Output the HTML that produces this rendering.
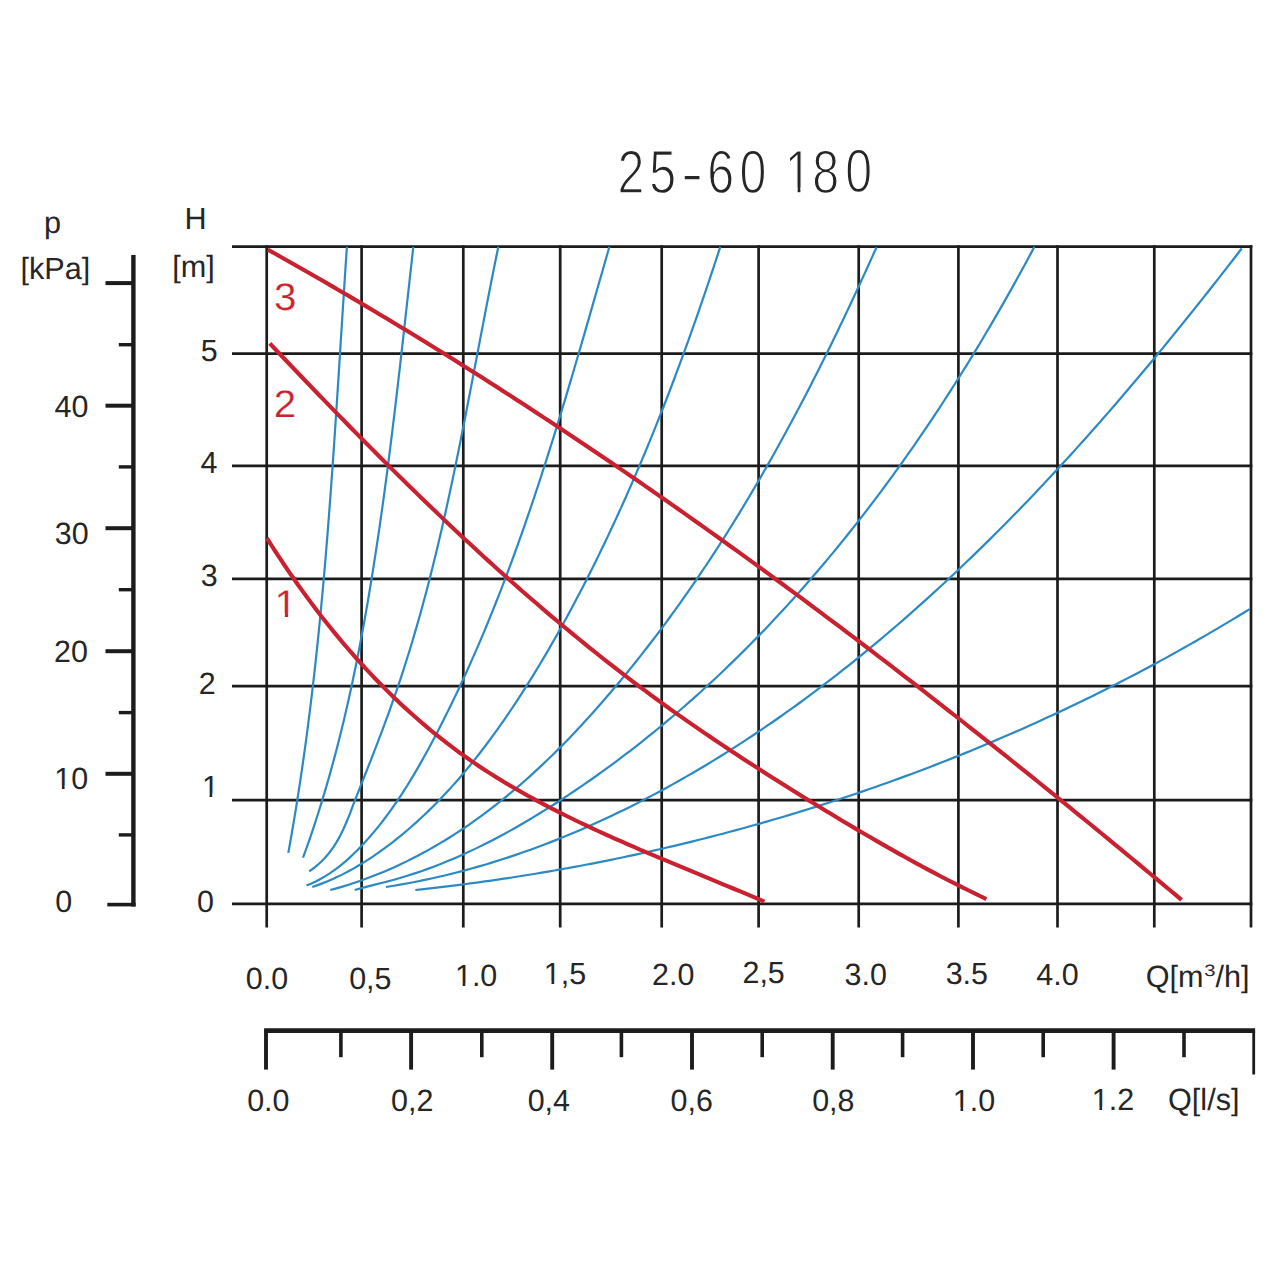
<!DOCTYPE html><html><head><meta charset="utf-8"><style>html,body{margin:0;padding:0;background:#fff;}svg{display:block;}text{font-family:"Liberation Sans",sans-serif;text-rendering:geometricPrecision;}</style></head><body>
<svg width="1280" height="1280" viewBox="0 0 1280 1280">
<rect width="1280" height="1280" fill="#fff"/>
<g stroke="#1c1c1c" stroke-width="2.70" fill="none"><line x1="232" y1="246.60" x2="1252.35" y2="246.60"/><line x1="232" y1="353.60" x2="1252.35" y2="353.60"/><line x1="232" y1="465.90" x2="1252.35" y2="465.90"/><line x1="232" y1="578.90" x2="1252.35" y2="578.90"/><line x1="232" y1="686.20" x2="1252.35" y2="686.20"/><line x1="232" y1="800.10" x2="1252.35" y2="800.10"/><line x1="232" y1="903.90" x2="1252.35" y2="903.90"/><line x1="266.70" y1="245.25" x2="266.70" y2="927.5"/><line x1="361.60" y1="245.25" x2="361.60" y2="927.5"/><line x1="463.30" y1="245.25" x2="463.30" y2="927.5"/><line x1="560.20" y1="245.25" x2="560.20" y2="927.5"/><line x1="661.70" y1="245.25" x2="661.70" y2="927.5"/><line x1="758.60" y1="245.25" x2="758.60" y2="927.5"/><line x1="858.70" y1="245.25" x2="858.70" y2="927.5"/><line x1="958.40" y1="245.25" x2="958.40" y2="927.5"/><line x1="1057.50" y1="245.25" x2="1057.50" y2="927.5"/><line x1="1154.30" y1="245.25" x2="1154.30" y2="927.5"/><line x1="1251.00" y1="245.25" x2="1251.00" y2="927.5"/></g>
<g stroke="#1c1c1c" fill="none"><line x1="133.40" y1="255" x2="133.40" y2="906.5" stroke-width="4.4"/><line x1="105.5" y1="283.10" x2="133.40" y2="283.10" stroke-width="4"/><line x1="105.5" y1="405.70" x2="133.40" y2="405.70" stroke-width="4"/><line x1="105.5" y1="528.20" x2="133.40" y2="528.20" stroke-width="4"/><line x1="105.5" y1="651.20" x2="133.40" y2="651.20" stroke-width="4"/><line x1="105.5" y1="773.80" x2="133.40" y2="773.80" stroke-width="4"/><line x1="107.3" y1="904.6" x2="135.60" y2="904.6" stroke-width="3.6"/><line x1="118.8" y1="344.70" x2="133.40" y2="344.70" stroke-width="3.4"/><line x1="118.8" y1="466.90" x2="133.40" y2="466.90" stroke-width="3.4"/><line x1="118.8" y1="589.70" x2="133.40" y2="589.70" stroke-width="3.4"/><line x1="118.8" y1="712.60" x2="133.40" y2="712.60" stroke-width="3.4"/><line x1="118.8" y1="834.90" x2="133.40" y2="834.90" stroke-width="3.4"/></g>
<g stroke="#1c1c1c" fill="none"><line x1="264.1" y1="1030.60" x2="1255.1" y2="1030.60" stroke-width="4.6"/><line x1="266.00" y1="1030.60" x2="266.00" y2="1069.6" stroke-width="3.9"/><line x1="411.10" y1="1030.60" x2="411.10" y2="1069.6" stroke-width="3.9"/><line x1="552.20" y1="1030.60" x2="552.20" y2="1069.6" stroke-width="3.9"/><line x1="692.00" y1="1030.60" x2="692.00" y2="1069.6" stroke-width="3.9"/><line x1="832.70" y1="1030.60" x2="832.70" y2="1069.6" stroke-width="3.9"/><line x1="973.00" y1="1030.60" x2="973.00" y2="1069.6" stroke-width="3.9"/><line x1="1113.60" y1="1030.60" x2="1113.60" y2="1069.6" stroke-width="3.9"/><line x1="340.90" y1="1030.60" x2="340.90" y2="1057.2" stroke-width="3.6"/><line x1="481.80" y1="1030.60" x2="481.80" y2="1057.2" stroke-width="3.6"/><line x1="621.40" y1="1030.60" x2="621.40" y2="1057.2" stroke-width="3.6"/><line x1="762.20" y1="1030.60" x2="762.20" y2="1057.2" stroke-width="3.6"/><line x1="902.60" y1="1030.60" x2="902.60" y2="1057.2" stroke-width="3.6"/><line x1="1043.20" y1="1030.60" x2="1043.20" y2="1057.2" stroke-width="3.6"/><line x1="1184.00" y1="1030.60" x2="1184.00" y2="1057.2" stroke-width="3.6"/><line x1="1253.7" y1="1030.60" x2="1253.7" y2="1074.5" stroke-width="2.8"/></g>
<g stroke="#2b8ac3" stroke-width="2.2" fill="none"><path d="M346.90,246.80 L346.61,251.17 L346.31,255.54 L346.02,259.91 L345.73,264.28 L345.44,268.65 L345.16,273.03 L344.87,277.40 L344.59,281.77 L344.30,286.14 L344.02,290.52 L343.74,294.89 L343.46,299.26 L343.18,303.63 L342.90,308.01 L342.62,312.38 L342.34,316.76 L342.06,321.13 L341.78,325.50 L341.50,329.88 L341.23,334.25 L340.95,338.63 L340.67,343.00 L340.39,347.38 L340.12,351.75 L339.84,356.13 L339.56,360.50 L339.28,364.88 L339.00,369.25 L338.73,373.63 L338.45,378.01 L338.17,382.38 L337.88,386.76 L337.60,391.13 L337.32,395.51 L337.04,399.88 L336.75,404.26 L336.47,408.63 L336.18,413.01 L335.89,417.39 L335.60,421.76 L335.31,426.14 L335.02,430.51 L334.73,434.89 L334.43,439.26 L334.14,443.64 L333.84,448.01 L333.54,452.39 L333.24,456.76 L332.93,461.13 L332.63,465.51 L332.32,469.88 L332.01,474.26 L331.70,478.63 L331.38,483.00 L331.07,487.38 L330.75,491.75 L330.43,496.12 L330.10,500.49 L329.77,504.87 L329.44,509.24 L329.11,513.61 L328.77,517.98 L328.44,522.35 L328.09,526.72 L327.75,531.09 L327.40,535.46 L327.05,539.83 L326.69,544.20 L326.34,548.57 L325.97,552.94 L325.61,557.31 L325.24,561.68 L324.87,566.04 L324.49,570.41 L324.11,574.78 L323.73,579.14 L323.34,583.51 L322.94,587.88 L322.55,592.24 L322.15,596.61 L321.74,600.97 L321.33,605.33 L320.92,609.70 L320.50,614.06 L320.08,618.42 L319.65,622.78 L319.21,627.14 L318.78,631.50 L318.33,635.86 L317.89,640.22 L317.43,644.58 L316.98,648.94 L316.51,653.30 L316.05,657.65 L315.57,662.01 L315.09,666.36 L314.61,670.72 L314.12,675.07 L313.62,679.43 L313.12,683.78 L312.61,688.13 L312.10,692.48 L311.58,696.83 L311.06,701.18 L310.52,705.53 L309.99,709.88 L309.44,714.23 L308.89,718.58 L308.34,722.92 L307.77,727.27 L307.20,731.61 L306.63,735.96 L306.05,740.30 L305.46,744.64 L304.86,748.98 L304.26,753.32 L303.65,757.66 L303.03,762.00 L302.40,766.34 L301.77,770.68 L301.13,775.01 L300.49,779.35 L299.83,783.68 L299.17,788.02 L298.50,792.35 L297.82,796.68 L297.14,801.01 L296.45,805.34 L295.75,809.67 L295.04,814.00 L294.32,818.32 L293.60,822.65 L292.87,826.97 L292.13,831.30 L291.38,835.62 L290.62,839.94 L289.85,844.26 L289.08,848.58 L288.30,852.90"/><path d="M413.32,246.81 L412.83,251.24 L412.33,255.68 L411.84,260.12 L411.34,264.56 L410.85,269.00 L410.36,273.44 L409.86,277.88 L409.37,282.32 L408.88,286.77 L408.39,291.21 L407.89,295.65 L407.40,300.10 L406.91,304.54 L406.41,308.99 L405.92,313.44 L405.43,317.88 L404.93,322.33 L404.43,326.78 L403.94,331.23 L403.44,335.67 L402.94,340.12 L402.44,344.57 L401.94,349.02 L401.43,353.47 L400.93,357.92 L400.42,362.37 L399.92,366.82 L399.41,371.27 L398.89,375.72 L398.38,380.17 L397.86,384.62 L397.35,389.07 L396.82,393.52 L396.30,397.97 L395.78,402.42 L395.25,406.87 L394.72,411.32 L394.18,415.77 L393.64,420.22 L393.10,424.67 L392.56,429.12 L392.01,433.57 L391.46,438.01 L390.91,442.46 L390.35,446.91 L389.79,451.36 L389.22,455.80 L388.65,460.25 L388.08,464.69 L387.50,469.14 L386.92,473.58 L386.33,478.02 L385.74,482.47 L385.15,486.91 L384.55,491.35 L383.94,495.79 L383.33,500.23 L382.72,504.67 L382.10,509.11 L381.47,513.55 L380.84,517.98 L380.21,522.42 L379.57,526.85 L378.92,531.29 L378.27,535.72 L377.61,540.15 L376.94,544.58 L376.27,549.01 L375.59,553.44 L374.91,557.87 L374.22,562.29 L373.52,566.72 L372.82,571.14 L372.11,575.56 L371.40,579.98 L370.67,584.40 L369.94,588.82 L369.20,593.24 L368.46,597.65 L367.71,602.07 L366.95,606.48 L366.18,610.89 L365.40,615.30 L364.61,619.70 L363.82,624.11 L363.02,628.51 L362.20,632.91 L361.38,637.31 L360.55,641.71 L359.71,646.10 L358.86,650.50 L358.00,654.89 L357.13,659.27 L356.25,663.66 L355.36,668.04 L354.46,672.42 L353.55,676.80 L352.63,681.18 L351.69,685.55 L350.75,689.92 L349.79,694.29 L348.82,698.66 L347.84,703.02 L346.85,707.38 L345.84,711.73 L344.83,716.09 L343.80,720.44 L342.75,724.78 L341.70,729.13 L340.63,733.47 L339.54,737.81 L338.45,742.14 L337.34,746.47 L336.21,750.80 L335.07,755.12 L333.92,759.44 L332.75,763.76 L331.57,768.07 L330.37,772.38 L329.16,776.69 L327.93,780.99 L326.69,785.29 L325.43,789.58 L324.16,793.87 L322.87,798.16 L321.56,802.44 L320.24,806.72 L318.90,810.99 L317.54,815.26 L316.17,819.53 L314.78,823.79 L313.37,828.04 L311.94,832.29 L310.50,836.54 L309.04,840.78 L307.56,845.02 L306.06,849.25 L304.55,853.48 L303.01,857.71"/><path d="M498.31,246.80 L497.36,251.43 L496.42,256.05 L495.48,260.68 L494.55,265.31 L493.62,269.94 L492.70,274.57 L491.78,279.21 L490.86,283.84 L489.95,288.48 L489.04,293.12 L488.14,297.76 L487.23,302.40 L486.33,307.04 L485.44,311.69 L484.54,316.33 L483.65,320.98 L482.76,325.63 L481.86,330.28 L480.98,334.92 L480.09,339.57 L479.20,344.23 L478.31,348.88 L477.43,353.53 L476.54,358.18 L475.65,362.83 L474.76,367.48 L473.88,372.14 L472.99,376.79 L472.10,381.44 L471.20,386.10 L470.31,390.75 L469.42,395.40 L468.52,400.05 L467.62,404.70 L466.71,409.36 L465.81,414.01 L464.90,418.66 L463.99,423.31 L463.07,427.96 L462.15,432.60 L461.23,437.25 L460.30,441.90 L459.37,446.54 L458.43,451.19 L457.49,455.83 L456.54,460.47 L455.58,465.11 L454.63,469.75 L453.66,474.39 L452.69,479.02 L451.71,483.66 L450.72,488.29 L449.73,492.92 L448.73,497.55 L447.73,502.18 L446.71,506.80 L445.69,511.42 L444.66,516.05 L443.62,520.66 L442.57,525.28 L441.51,529.89 L440.45,534.50 L439.37,539.11 L438.29,543.72 L437.19,548.32 L436.09,552.92 L434.97,557.52 L433.85,562.11 L432.71,566.70 L431.56,571.29 L430.40,575.88 L429.23,580.46 L428.05,585.04 L426.85,589.61 L425.64,594.18 L424.42,598.75 L423.19,603.32 L421.95,607.88 L420.69,612.43 L419.41,616.99 L418.13,621.53 L416.83,626.08 L415.51,630.62 L414.18,635.16 L412.84,639.69 L411.48,644.22 L410.11,648.74 L408.72,653.26 L407.31,657.77 L405.89,662.28 L404.45,666.79 L403.00,671.29 L401.53,675.79 L400.04,680.28 L398.54,684.76 L397.01,689.24 L395.48,693.72 L393.92,698.19 L392.35,702.65 L390.76,707.11 L389.16,711.57 L387.55,716.02 L385.92,720.47 L384.28,724.91 L382.63,729.35 L380.96,733.78 L379.29,738.21 L377.60,742.63 L375.91,747.05 L374.21,751.47 L372.50,755.88 L370.78,760.29 L369.05,764.69 L367.32,769.09 L365.58,773.49 L363.84,777.88 L362.09,782.27 L360.34,786.66 L358.60,791.05 L356.87,795.44 L355.16,799.83 L353.48,804.23 L351.81,808.63 L350.13,813.02 L348.41,817.39 L346.64,821.72 L344.80,826.03 L342.86,830.28 L340.80,834.48 L338.61,838.61 L336.25,842.67 L333.72,846.65 L330.99,850.53 L328.03,854.31 L324.84,857.99 L321.37,861.54 L317.63,864.97 L313.58,868.26 L309.20,871.40"/><path d="M609.41,246.80 L607.97,251.78 L606.54,256.77 L605.11,261.76 L603.68,266.74 L602.25,271.73 L600.81,276.72 L599.38,281.71 L597.95,286.70 L596.52,291.68 L595.09,296.67 L593.66,301.66 L592.23,306.65 L590.80,311.64 L589.36,316.63 L587.92,321.62 L586.48,326.61 L585.04,331.60 L583.60,336.58 L582.15,341.57 L580.71,346.56 L579.25,351.54 L577.80,356.52 L576.34,361.51 L574.88,366.49 L573.41,371.47 L571.94,376.45 L570.47,381.43 L568.99,386.40 L567.51,391.38 L566.02,396.35 L564.53,401.32 L563.03,406.29 L561.52,411.26 L560.01,416.23 L558.49,421.19 L556.97,426.15 L555.44,431.11 L553.90,436.07 L552.36,441.02 L550.81,445.97 L549.25,450.92 L547.68,455.87 L546.11,460.81 L544.53,465.75 L542.93,470.69 L541.33,475.62 L539.73,480.55 L538.11,485.48 L536.48,490.41 L534.85,495.33 L533.20,500.24 L531.54,505.16 L529.88,510.07 L528.20,514.97 L526.51,519.87 L524.81,524.77 L523.11,529.67 L521.38,534.56 L519.65,539.44 L517.91,544.32 L516.15,549.20 L514.38,554.07 L512.60,558.93 L510.81,563.80 L509.00,568.65 L507.18,573.51 L505.35,578.35 L503.50,583.19 L501.64,588.03 L499.77,592.86 L497.88,597.69 L495.98,602.51 L494.06,607.32 L492.13,612.13 L490.18,616.93 L488.22,621.73 L486.24,626.52 L484.24,631.31 L482.23,636.09 L480.21,640.86 L478.16,645.63 L476.10,650.39 L474.02,655.14 L471.93,659.89 L469.82,664.63 L467.69,669.36 L465.54,674.08 L463.38,678.80 L461.19,683.52 L458.99,688.22 L456.77,692.92 L454.53,697.61 L452.27,702.29 L449.99,706.97 L447.69,711.63 L445.38,716.29 L443.04,720.95 L440.68,725.59 L438.30,730.23 L435.90,734.85 L433.48,739.47 L431.03,744.08 L428.57,748.68 L426.07,753.26 L423.55,757.83 L421.00,762.38 L418.41,766.91 L415.80,771.42 L413.14,775.90 L410.45,780.36 L407.73,784.79 L404.96,789.19 L402.15,793.55 L399.29,797.89 L396.39,802.18 L393.44,806.44 L390.45,810.66 L387.40,814.84 L384.29,818.97 L381.14,823.05 L377.92,827.09 L374.65,831.08 L371.32,835.01 L367.93,838.89 L364.47,842.72 L360.95,846.48 L357.35,850.19 L353.69,853.82 L349.94,857.36 L346.10,860.80 L342.17,864.14 L338.14,867.36 L334.00,870.44 L329.74,873.38 L325.36,876.17 L320.86,878.79 L316.22,881.22 L311.44,883.47 L306.51,885.52"/><path d="M720.30,246.80 L718.57,252.12 L716.83,257.43 L715.08,262.75 L713.33,268.06 L711.56,273.37 L709.79,278.69 L708.00,284.00 L706.21,289.31 L704.40,294.62 L702.59,299.92 L700.76,305.23 L698.93,310.53 L697.08,315.83 L695.22,321.13 L693.36,326.43 L691.48,331.72 L689.59,337.02 L687.69,342.31 L685.78,347.59 L683.86,352.87 L681.93,358.15 L679.98,363.43 L678.03,368.70 L676.06,373.97 L674.08,379.24 L672.09,384.50 L670.09,389.76 L668.07,395.01 L666.04,400.26 L664.00,405.50 L661.95,410.74 L659.88,415.98 L657.81,421.21 L655.71,426.43 L653.61,431.65 L651.49,436.86 L649.36,442.07 L647.22,447.27 L645.06,452.46 L642.89,457.65 L640.71,462.84 L638.51,468.01 L636.29,473.18 L634.07,478.35 L631.83,483.50 L629.57,488.65 L627.30,493.79 L625.02,498.93 L622.72,504.05 L620.40,509.17 L618.07,514.28 L615.73,519.39 L613.37,524.48 L611.00,529.57 L608.61,534.64 L606.20,539.71 L603.78,544.77 L601.34,549.83 L598.89,554.87 L596.42,559.90 L593.94,564.93 L591.44,569.94 L588.92,574.94 L586.39,579.94 L583.83,584.92 L581.27,589.90 L578.68,594.86 L576.08,599.82 L573.46,604.76 L570.83,609.69 L568.17,614.61 L565.50,619.52 L562.81,624.42 L560.09,629.31 L557.36,634.19 L554.61,639.06 L551.83,643.92 L549.03,648.77 L546.21,653.60 L543.37,658.43 L540.50,663.24 L537.61,668.04 L534.69,672.84 L531.74,677.62 L528.77,682.39 L525.78,687.15 L522.75,691.90 L519.70,696.64 L516.62,701.36 L513.51,706.07 L510.37,710.76 L507.20,715.43 L504.00,720.08 L500.77,724.71 L497.50,729.33 L494.20,733.91 L490.87,738.47 L487.50,743.01 L484.10,747.52 L480.67,751.99 L477.20,756.44 L473.69,760.86 L470.15,765.24 L466.56,769.59 L462.94,773.90 L459.28,778.18 L455.58,782.41 L451.85,786.61 L448.07,790.76 L444.25,794.87 L440.38,798.94 L436.48,802.96 L432.53,806.94 L428.54,810.86 L424.50,814.74 L420.42,818.56 L416.30,822.33 L412.12,826.05 L407.91,829.71 L403.64,833.32 L399.33,836.87 L394.96,840.36 L390.55,843.78 L386.09,847.15 L381.58,850.45 L377.02,853.67 L372.40,856.83 L367.73,859.90 L363.00,862.88 L358.21,865.78 L353.37,868.58 L348.46,871.28 L343.49,873.88 L338.46,876.37 L333.36,878.75 L328.20,881.00 L322.97,883.14 L317.67,885.15 L312.30,887.02"/><path d="M876.54,247.23 L873.99,252.92 L871.43,258.61 L868.86,264.29 L866.27,269.97 L863.68,275.65 L861.08,281.32 L858.46,286.99 L855.83,292.66 L853.19,298.32 L850.54,303.98 L847.88,309.63 L845.20,315.27 L842.51,320.92 L839.81,326.55 L837.10,332.18 L834.37,337.81 L831.63,343.42 L828.88,349.04 L826.11,354.64 L823.33,360.24 L820.54,365.84 L817.73,371.42 L814.90,377.00 L812.07,382.57 L809.21,388.14 L806.34,393.69 L803.46,399.24 L800.56,404.78 L797.65,410.31 L794.72,415.83 L791.77,421.35 L788.81,426.85 L785.83,432.35 L782.83,437.84 L779.82,443.32 L776.79,448.78 L773.74,454.24 L770.68,459.69 L767.60,465.13 L764.50,470.56 L761.38,475.97 L758.24,481.38 L755.09,486.77 L751.92,492.16 L748.73,497.53 L745.51,502.89 L742.28,508.24 L739.03,513.58 L735.77,518.90 L732.48,524.21 L729.17,529.51 L725.84,534.80 L722.49,540.07 L719.12,545.33 L715.73,550.58 L712.32,555.82 L708.88,561.04 L705.43,566.24 L701.95,571.43 L698.45,576.61 L694.93,581.78 L691.39,586.92 L687.83,592.06 L684.24,597.18 L680.63,602.28 L677.00,607.37 L673.34,612.44 L669.66,617.49 L665.96,622.53 L662.23,627.56 L658.48,632.57 L654.71,637.56 L650.91,642.53 L647.08,647.49 L643.24,652.43 L639.36,657.35 L635.46,662.25 L631.54,667.14 L627.59,672.01 L623.61,676.86 L619.61,681.69 L615.59,686.50 L611.53,691.30 L607.45,696.07 L603.34,700.82 L599.21,705.55 L595.04,710.26 L590.85,714.94 L586.63,719.59 L582.38,724.22 L578.10,728.81 L573.79,733.38 L569.46,737.91 L565.09,742.41 L560.68,746.88 L556.25,751.31 L551.79,755.70 L547.29,760.06 L542.76,764.38 L538.20,768.65 L533.60,772.89 L528.97,777.08 L524.31,781.22 L519.61,785.32 L514.87,789.38 L510.10,793.38 L505.30,797.34 L500.46,801.24 L495.58,805.09 L490.66,808.89 L485.71,812.64 L480.72,816.32 L475.69,819.95 L470.63,823.53 L465.52,827.04 L460.38,830.49 L455.19,833.88 L449.96,837.20 L444.70,840.46 L439.39,843.66 L434.04,846.78 L428.65,849.84 L423.22,852.83 L417.75,855.74 L412.23,858.59 L406.67,861.36 L401.07,864.05 L395.42,866.67 L389.72,869.21 L383.99,871.67 L378.20,874.05 L372.37,876.35 L366.50,878.57 L360.58,880.70 L354.61,882.75 L348.60,884.71 L342.53,886.58 L336.42,888.37 L330.26,890.06"/><path d="M1034.40,246.81 L1031.17,252.88 L1027.92,258.94 L1024.64,264.99 L1021.34,271.04 L1018.03,277.08 L1014.69,283.11 L1011.33,289.13 L1007.95,295.15 L1004.55,301.16 L1001.13,307.16 L997.69,313.15 L994.22,319.13 L990.74,325.10 L987.23,331.06 L983.70,337.01 L980.15,342.96 L976.58,348.89 L972.98,354.81 L969.37,360.71 L965.73,366.61 L962.07,372.50 L958.39,378.37 L954.68,384.23 L950.96,390.08 L947.21,395.91 L943.44,401.73 L939.64,407.54 L935.83,413.33 L931.99,419.11 L928.13,424.88 L924.24,430.63 L920.34,436.37 L916.41,442.09 L912.46,447.79 L908.48,453.48 L904.48,459.15 L900.46,464.81 L896.42,470.45 L892.35,476.07 L888.26,481.68 L884.14,487.26 L880.00,492.83 L875.84,498.38 L871.65,503.92 L867.44,509.43 L863.21,514.93 L858.95,520.40 L854.67,525.86 L850.37,531.29 L846.04,536.71 L841.68,542.10 L837.31,547.48 L832.90,552.83 L828.48,558.16 L824.03,563.47 L819.55,568.76 L815.05,574.03 L810.53,579.27 L805.98,584.49 L801.40,589.69 L796.80,594.86 L792.18,600.01 L787.53,605.13 L782.85,610.24 L778.15,615.31 L773.43,620.36 L768.68,625.39 L763.90,630.39 L759.10,635.37 L754.27,640.32 L749.42,645.24 L744.54,650.14 L739.64,655.01 L734.71,659.85 L729.75,664.66 L724.77,669.45 L719.76,674.21 L714.73,678.94 L709.67,683.64 L704.58,688.31 L699.47,692.96 L694.33,697.57 L689.16,702.16 L683.97,706.71 L678.75,711.23 L673.51,715.73 L668.23,720.19 L662.94,724.62 L657.61,729.02 L652.26,733.38 L646.87,737.72 L641.47,742.02 L636.03,746.29 L630.57,750.53 L625.08,754.73 L619.56,758.90 L614.02,763.04 L608.44,767.14 L602.84,771.20 L597.22,775.24 L591.56,779.23 L585.88,783.20 L580.17,787.12 L574.43,791.01 L568.66,794.87 L562.86,798.68 L557.04,802.46 L551.19,806.21 L545.30,809.91 L539.39,813.56 L533.45,817.17 L527.49,820.73 L521.49,824.24 L515.46,827.70 L509.40,831.09 L503.31,834.43 L497.19,837.71 L491.04,840.92 L484.86,844.06 L478.65,847.13 L472.40,850.13 L466.12,853.05 L459.81,855.90 L453.47,858.66 L447.10,861.34 L440.69,863.94 L434.25,866.45 L427.78,868.86 L421.27,871.18 L414.73,873.41 L408.16,875.53 L401.55,877.56 L394.90,879.48 L388.23,881.29 L381.52,883.01 L374.80,884.69 L368.07,886.38 L361.37,888.12 L354.69,889.97"/><path d="M1241.71,248.51 L1236.91,254.74 L1232.10,260.96 L1227.28,267.18 L1222.45,273.38 L1217.60,279.58 L1212.75,285.77 L1207.89,291.95 L1203.01,298.11 L1198.12,304.27 L1193.22,310.42 L1188.30,316.56 L1183.37,322.68 L1178.43,328.80 L1173.48,334.90 L1168.51,341.00 L1163.53,347.08 L1158.54,353.15 L1153.53,359.20 L1148.50,365.25 L1143.46,371.28 L1138.41,377.29 L1133.34,383.30 L1128.25,389.29 L1123.15,395.26 L1118.03,401.23 L1112.90,407.17 L1107.75,413.11 L1102.58,419.03 L1097.39,424.93 L1092.19,430.81 L1086.97,436.69 L1081.74,442.54 L1076.48,448.38 L1071.21,454.20 L1065.92,460.01 L1060.61,465.80 L1055.28,471.57 L1049.93,477.32 L1044.56,483.06 L1039.17,488.77 L1033.76,494.47 L1028.33,500.15 L1022.89,505.81 L1017.42,511.46 L1011.92,517.08 L1006.41,522.68 L1000.88,528.26 L995.32,533.83 L989.75,539.37 L984.15,544.89 L978.53,550.39 L972.88,555.87 L967.22,561.33 L961.53,566.77 L955.81,572.18 L950.08,577.57 L944.31,582.94 L938.53,588.29 L932.72,593.61 L926.89,598.91 L921.03,604.18 L915.15,609.43 L909.24,614.65 L903.31,619.84 L897.36,625.01 L891.38,630.15 L885.37,635.26 L879.34,640.34 L873.29,645.40 L867.21,650.42 L861.11,655.41 L854.98,660.37 L848.83,665.30 L842.65,670.19 L836.45,675.06 L830.22,679.89 L823.97,684.68 L817.69,689.44 L811.39,694.17 L805.06,698.85 L798.70,703.51 L792.32,708.12 L785.92,712.70 L779.49,717.24 L773.03,721.74 L766.55,726.20 L760.04,730.62 L753.50,735.00 L746.94,739.33 L740.35,743.63 L733.74,747.88 L727.10,752.09 L720.44,756.26 L713.75,760.38 L707.03,764.46 L700.28,768.49 L693.51,772.48 L686.71,776.42 L679.89,780.31 L673.04,784.16 L666.16,787.95 L659.25,791.70 L652.32,795.40 L645.36,799.04 L638.38,802.64 L631.37,806.18 L624.33,809.67 L617.27,813.11 L610.18,816.48 L603.06,819.81 L595.92,823.07 L588.75,826.28 L581.56,829.42 L574.34,832.51 L567.09,835.53 L559.83,838.49 L552.53,841.39 L545.21,844.22 L537.87,846.99 L530.50,849.69 L523.11,852.33 L515.69,854.89 L508.25,857.38 L500.78,859.81 L493.29,862.16 L485.78,864.44 L478.24,866.65 L470.68,868.78 L463.10,870.83 L455.49,872.81 L447.86,874.72 L440.21,876.54 L432.53,878.28 L424.83,879.94 L417.11,881.53 L409.36,883.02 L401.59,884.44 L393.80,885.77 L385.99,887.01"/><path d="M1249.61,609.12 L1244.17,612.47 L1238.72,615.79 L1233.25,619.10 L1227.78,622.39 L1222.29,625.67 L1216.79,628.92 L1211.28,632.15 L1205.76,635.37 L1200.23,638.56 L1194.69,641.74 L1189.14,644.90 L1183.58,648.04 L1178.01,651.15 L1172.42,654.25 L1166.83,657.34 L1161.23,660.40 L1155.61,663.44 L1149.99,666.46 L1144.35,669.47 L1138.71,672.45 L1133.05,675.42 L1127.39,678.37 L1121.72,681.30 L1116.03,684.21 L1110.34,687.10 L1104.64,689.97 L1098.92,692.82 L1093.20,695.65 L1087.47,698.46 L1081.73,701.26 L1075.98,704.03 L1070.22,706.79 L1064.45,709.53 L1058.67,712.24 L1052.89,714.94 L1047.09,717.62 L1041.29,720.28 L1035.48,722.92 L1029.65,725.54 L1023.82,728.15 L1017.99,730.73 L1012.14,733.29 L1006.28,735.84 L1000.42,738.36 L994.55,740.87 L988.67,743.36 L982.78,745.82 L976.88,748.27 L970.97,750.70 L965.06,753.11 L959.14,755.50 L953.21,757.87 L947.28,760.23 L941.33,762.56 L935.38,764.87 L929.42,767.17 L923.45,769.44 L917.48,771.70 L911.50,773.94 L905.51,776.15 L899.51,778.35 L893.51,780.53 L887.50,782.69 L881.48,784.83 L875.46,786.95 L869.43,789.05 L863.39,791.14 L857.35,793.20 L851.29,795.24 L845.24,797.27 L839.17,799.27 L833.10,801.26 L827.03,803.22 L820.94,805.17 L814.85,807.10 L808.76,809.01 L802.66,810.90 L796.55,812.77 L790.43,814.62 L784.31,816.45 L778.19,818.26 L772.06,820.05 L765.92,821.82 L759.78,823.58 L753.63,825.31 L747.48,827.02 L741.32,828.72 L735.15,830.39 L728.98,832.05 L722.81,833.69 L716.63,835.30 L710.44,836.90 L704.25,838.48 L698.06,840.04 L691.86,841.58 L685.65,843.10 L679.45,844.60 L673.23,846.08 L667.01,847.54 L660.79,848.99 L654.56,850.41 L648.33,851.81 L642.09,853.20 L635.85,854.56 L629.61,855.90 L623.36,857.23 L617.11,858.54 L610.85,859.82 L604.59,861.09 L598.33,862.34 L592.06,863.56 L585.79,864.77 L579.51,865.96 L573.23,867.13 L566.95,868.28 L560.66,869.41 L554.37,870.52 L548.08,871.61 L541.79,872.68 L535.49,873.74 L529.19,874.77 L522.88,875.78 L516.57,876.78 L510.26,877.75 L503.95,878.70 L497.63,879.64 L491.31,880.55 L484.99,881.45 L478.67,882.32 L472.34,883.18 L466.01,884.02 L459.68,884.83 L453.35,885.63 L447.01,886.41 L440.68,887.17 L434.34,887.91 L427.99,888.63 L421.65,889.32 L415.30,890.00"/></g>
<g stroke="#ca2130" stroke-width="4.1" fill="none"><path d="M266.84,538.06 L269.26,541.91 L271.71,545.74 L274.17,549.56 L276.64,553.37 L279.14,557.18 L281.65,560.97 L284.18,564.75 L286.73,568.52 L289.29,572.28 L291.87,576.02 L294.47,579.76 L297.09,583.48 L299.73,587.19 L302.38,590.89 L305.05,594.57 L307.75,598.24 L310.45,601.90 L313.18,605.54 L315.93,609.17 L318.69,612.78 L321.47,616.38 L324.27,619.96 L327.09,623.53 L329.93,627.08 L332.79,630.61 L335.66,634.13 L338.56,637.63 L341.47,641.12 L344.40,644.58 L347.36,648.03 L350.33,651.46 L353.32,654.87 L356.33,658.27 L359.35,661.64 L362.40,665.00 L365.47,668.33 L368.56,671.65 L371.66,674.94 L374.79,678.22 L377.93,681.47 L381.10,684.71 L384.28,687.92 L387.49,691.11 L390.71,694.28 L393.96,697.42 L397.22,700.55 L400.51,703.65 L403.81,706.72 L407.14,709.78 L410.49,712.81 L413.85,715.81 L417.24,718.79 L420.65,721.75 L424.08,724.68 L427.52,727.59 L430.99,730.47 L434.48,733.32 L438.00,736.15 L441.53,738.95 L445.08,741.73 L448.66,744.47 L452.25,747.19 L455.87,749.89 L459.50,752.55 L463.16,755.19 L466.84,757.79 L470.54,760.37 L474.27,762.92 L478.01,765.45 L481.77,767.95 L485.55,770.42 L489.35,772.86 L493.17,775.28 L497.01,777.67 L500.86,780.04 L504.73,782.39 L508.62,784.71 L512.52,787.01 L516.44,789.28 L520.38,791.54 L524.33,793.77 L528.29,795.98 L532.27,798.17 L536.26,800.34 L540.27,802.49 L544.29,804.62 L548.32,806.73 L552.36,808.82 L556.41,810.89 L560.48,812.95 L564.56,814.99 L568.64,817.01 L572.74,819.02 L576.85,821.01 L580.96,822.98 L585.08,824.94 L589.22,826.89 L593.35,828.82 L597.50,830.74 L601.65,832.64 L605.81,834.53 L609.98,836.41 L614.15,838.28 L618.33,840.14 L622.51,841.99 L626.69,843.82 L630.88,845.65 L635.07,847.47 L639.27,849.28 L643.47,851.08 L647.67,852.87 L651.87,854.65 L656.07,856.43 L660.28,858.20 L664.48,859.97 L668.69,861.73 L672.89,863.48 L677.09,865.23 L681.29,866.98 L685.49,868.72 L689.69,870.46 L693.89,872.19 L698.08,873.93 L702.27,875.66 L706.45,877.39 L710.63,879.12 L714.81,880.84 L718.98,882.57 L723.14,884.30 L727.30,886.03 L731.45,887.76 L735.60,889.49 L739.74,891.23 L743.87,892.96 L747.99,894.70 L752.10,896.45 L756.21,898.20 L760.30,899.95 L764.39,901.71"/><path d="M269.83,343.46 L274.35,348.23 L278.87,353.00 L283.39,357.76 L287.92,362.52 L292.45,367.27 L296.99,372.02 L301.53,376.77 L306.08,381.52 L310.63,386.26 L315.18,390.99 L319.74,395.72 L324.31,400.45 L328.88,405.17 L333.46,409.88 L338.04,414.59 L342.63,419.30 L347.23,424.00 L351.83,428.69 L356.44,433.37 L361.05,438.05 L365.67,442.73 L370.30,447.39 L374.94,452.05 L379.58,456.70 L384.23,461.34 L388.88,465.98 L393.55,470.61 L398.22,475.22 L402.90,479.83 L407.59,484.44 L412.28,489.03 L416.99,493.61 L421.70,498.19 L426.42,502.75 L431.15,507.30 L435.89,511.85 L440.64,516.38 L445.40,520.91 L450.17,525.42 L454.95,529.92 L459.73,534.41 L464.53,538.89 L469.34,543.36 L474.15,547.81 L478.98,552.26 L483.82,556.69 L488.67,561.11 L493.53,565.51 L498.40,569.91 L503.28,574.29 L508.17,578.65 L513.07,583.01 L517.99,587.35 L522.92,591.67 L527.86,595.99 L532.81,600.28 L537.77,604.56 L542.75,608.83 L547.74,613.08 L552.74,617.32 L557.75,621.54 L562.78,625.75 L567.82,629.94 L572.87,634.11 L577.94,638.27 L583.02,642.41 L588.11,646.54 L593.22,650.64 L598.34,654.73 L603.48,658.81 L608.63,662.86 L613.80,666.90 L618.98,670.92 L624.17,674.92 L629.38,678.90 L634.60,682.86 L639.84,686.81 L645.10,690.73 L650.37,694.64 L655.66,698.52 L660.96,702.39 L666.28,706.23 L671.61,710.06 L676.96,713.87 L682.33,717.65 L687.71,721.42 L693.10,725.17 L698.50,728.91 L703.92,732.62 L709.36,736.32 L714.80,740.00 L720.26,743.67 L725.73,747.32 L731.21,750.95 L736.70,754.57 L742.20,758.17 L747.71,761.76 L753.23,765.34 L758.76,768.90 L764.30,772.45 L769.84,775.98 L775.40,779.50 L780.96,783.01 L786.53,786.51 L792.10,790.00 L797.68,793.48 L803.27,796.94 L808.86,800.39 L814.46,803.84 L820.06,807.27 L825.67,810.70 L831.29,814.11 L836.91,817.50 L842.54,820.89 L848.17,824.26 L853.82,827.62 L859.47,830.96 L865.12,834.28 L870.79,837.59 L876.47,840.88 L882.15,844.15 L887.84,847.40 L893.55,850.63 L899.26,853.84 L904.99,857.03 L910.72,860.20 L916.47,863.35 L922.23,866.47 L928.00,869.57 L933.78,872.65 L939.58,875.70 L945.39,878.72 L951.21,881.71 L957.04,884.68 L962.89,887.62 L968.76,890.53 L974.64,893.42 L980.53,896.27 L986.44,899.09"/><path d="M267.71,249.62 L274.78,253.57 L281.84,257.53 L288.90,261.51 L295.94,265.49 L302.98,269.50 L310.00,273.51 L317.02,277.54 L324.03,281.59 L331.03,285.64 L338.02,289.71 L345.00,293.79 L351.98,297.89 L358.94,302.00 L365.90,306.12 L372.85,310.25 L379.79,314.40 L386.72,318.56 L393.64,322.73 L400.56,326.92 L407.47,331.12 L414.37,335.33 L421.26,339.55 L428.14,343.79 L435.02,348.03 L441.88,352.29 L448.74,356.56 L455.59,360.85 L462.44,365.14 L469.27,369.45 L476.10,373.77 L482.92,378.10 L489.73,382.44 L496.53,386.80 L503.33,391.16 L510.12,395.54 L516.90,399.93 L523.67,404.33 L530.44,408.74 L537.19,413.16 L543.95,417.60 L550.69,422.04 L557.42,426.50 L564.15,430.96 L570.87,435.44 L577.59,439.93 L584.29,444.43 L590.99,448.94 L597.69,453.46 L604.37,457.99 L611.05,462.53 L617.72,467.08 L624.38,471.64 L631.04,476.21 L637.69,480.80 L644.33,485.39 L650.97,489.99 L657.60,494.60 L664.22,499.22 L670.84,503.86 L677.45,508.50 L684.05,513.15 L690.65,517.81 L697.24,522.48 L703.82,527.16 L710.39,531.85 L716.96,536.54 L723.53,541.25 L730.08,545.97 L736.63,550.69 L743.18,555.43 L749.72,560.17 L756.25,564.92 L762.77,569.69 L769.29,574.46 L775.80,579.23 L782.31,584.02 L788.81,588.82 L795.31,593.62 L801.79,598.43 L808.28,603.25 L814.75,608.08 L821.22,612.92 L827.69,617.77 L834.15,622.62 L840.60,627.48 L847.05,632.35 L853.49,637.23 L859.93,642.11 L866.36,647.00 L872.78,651.90 L879.20,656.81 L885.62,661.73 L892.03,666.65 L898.43,671.58 L904.83,676.52 L911.22,681.46 L917.61,686.41 L923.99,691.37 L930.36,696.33 L936.74,701.31 L943.10,706.29 L949.46,711.27 L955.82,716.26 L962.17,721.26 L968.52,726.27 L974.86,731.28 L981.19,736.30 L987.52,741.32 L993.85,746.36 L1000.17,751.39 L1006.49,756.44 L1012.80,761.49 L1019.11,766.54 L1025.41,771.60 L1031.71,776.67 L1038.00,781.74 L1044.29,786.82 L1050.57,791.91 L1056.85,797.00 L1063.13,802.09 L1069.40,807.19 L1075.66,812.30 L1081.92,817.41 L1088.18,822.53 L1094.43,827.65 L1100.68,832.78 L1106.93,837.91 L1113.17,843.05 L1119.41,848.19 L1125.64,853.34 L1131.87,858.49 L1138.09,863.64 L1144.31,868.80 L1150.53,873.97 L1156.74,879.14 L1162.95,884.31 L1169.16,889.49 L1175.36,894.67 L1181.55,899.86"/></g>
<text transform="translate(200.74,360.89) scale(0.9922,1)" font-size="30.68" fill="#262626">5</text><text transform="translate(200.54,472.60) scale(0.9922,1)" font-size="30.68" fill="#262626">4</text><text transform="translate(200.74,586.19) scale(0.9922,1)" font-size="30.68" fill="#262626">3</text><text transform="translate(198.87,693.63) scale(0.9922,1)" font-size="30.68" fill="#262626">2</text><text transform="translate(201.90,797.10) scale(0.9922,1)" font-size="30.68" fill="#262626">1</text><rect x="203.39" y="793.81" width="6.17" height="4.79" fill="#fff"/><rect x="212.24" y="793.81" width="6.00" height="4.79" fill="#fff"/><text transform="translate(196.96,912.46) scale(0.9922,1)" font-size="30.68" fill="#262626">0</text><text transform="translate(54.61,416.92) scale(0.9922,1)" font-size="30.68" fill="#262626">40</text><text transform="translate(54.71,543.79) scale(0.9922,1)" font-size="30.68" fill="#262626">30</text><text transform="translate(54.08,661.79) scale(0.9922,1)" font-size="30.68" fill="#262626">20</text><text transform="translate(54.25,788.89) scale(0.9922,1)" font-size="30.68" fill="#262626">10</text><rect x="55.74" y="785.60" width="6.17" height="4.79" fill="#fff"/><rect x="64.59" y="785.60" width="6.00" height="4.79" fill="#fff"/><text transform="translate(55.19,912.29) scale(0.9922,1)" font-size="30.68" fill="#262626">0</text><text transform="translate(245.87,989.26) scale(0.9922,1)" font-size="30.68" fill="#262626">0.0</text><text transform="translate(349.14,989.13) scale(0.9922,1)" font-size="30.68" fill="#262626">0,5</text><text transform="translate(454.97,986.46) scale(0.9922,1)" font-size="30.68" fill="#262626">1.0</text><rect x="456.46" y="983.16" width="6.17" height="4.79" fill="#fff"/><rect x="465.32" y="983.16" width="6.00" height="4.79" fill="#fff"/><text transform="translate(543.86,984.40) scale(0.9922,1)" font-size="30.68" fill="#262626">1,5</text><rect x="545.34" y="981.11" width="6.17" height="4.79" fill="#fff"/><rect x="554.20" y="981.11" width="6.00" height="4.79" fill="#fff"/><text transform="translate(652.07,984.77) scale(0.9922,1)" font-size="30.68" fill="#262626">2.0</text><text transform="translate(742.45,982.57) scale(0.9922,1)" font-size="30.68" fill="#262626">2,5</text><text transform="translate(844.53,984.89) scale(0.9922,1)" font-size="30.68" fill="#262626">3.0</text><text transform="translate(945.63,984.49) scale(0.9922,1)" font-size="30.68" fill="#262626">3.5</text><text transform="translate(1036.26,984.92) scale(0.9922,1)" font-size="30.68" fill="#262626">4.0</text><text transform="translate(247.17,1110.96) scale(0.9922,1)" font-size="30.68" fill="#262626">0.0</text><text transform="translate(391.03,1111.13) scale(0.9922,1)" font-size="30.68" fill="#262626">0,2</text><text transform="translate(527.64,1110.57) scale(0.9922,1)" font-size="30.68" fill="#262626">0,4</text><text transform="translate(670.54,1110.63) scale(0.9922,1)" font-size="30.68" fill="#262626">0,6</text><text transform="translate(812.13,1110.63) scale(0.9922,1)" font-size="30.68" fill="#262626">0,8</text><text transform="translate(952.85,1110.67) scale(0.9922,1)" font-size="30.68" fill="#262626">1.0</text><rect x="954.33" y="1107.38" width="6.17" height="4.79" fill="#fff"/><rect x="963.19" y="1107.38" width="6.00" height="4.79" fill="#fff"/><text transform="translate(1091.76,1110.23) scale(0.9922,1)" font-size="30.68" fill="#262626">1.2</text><rect x="1093.25" y="1106.94" width="6.17" height="4.79" fill="#fff"/><rect x="1102.10" y="1106.94" width="6.00" height="4.79" fill="#fff"/><text transform="translate(43.88,233.34) scale(0.9989,1)" font-size="30.67" fill="#262626">p</text><text transform="translate(20.51,279.22) scale(0.9989,1)" font-size="30.67" fill="#262626">[kPa]</text><text transform="translate(184.40,229.13) scale(0.9989,1)" font-size="30.67" fill="#262626">H</text><text transform="translate(172.30,276.92) scale(0.9989,1)" font-size="30.67" fill="#262626">[m]</text><text transform="translate(1145.65,986.52) scale(0.9989,1)" font-size="30.67" fill="#262626">Q[m</text><text transform="translate(1215.46,986.52) scale(0.9989,1)" font-size="30.67" fill="#262626">/h]</text><text transform="translate(1168.04,1109.56) scale(0.9989,1)" font-size="30.67" fill="#262626">Q[l/s]</text><text transform="translate(1204.21,975.60) scale(1.2213,1)" font-size="16.49" fill="#262626">3</text><text transform="translate(274.02,309.95) scale(1.0491,1)" font-size="38.45" fill="#ca2130" stroke="#fff" stroke-width="0.25" paint-order="normal">3</text><text transform="translate(273.70,417.27) scale(1.0491,1)" font-size="38.45" fill="#ca2130" stroke="#fff" stroke-width="0.25" paint-order="normal">2</text><text transform="translate(274.57,617.00) scale(1.0491,1)" font-size="38.45" fill="#ca2130" stroke="#fff" stroke-width="0.25" paint-order="normal">1</text><rect x="276.54" y="613.13" width="8.30" height="5.37" fill="#fff"/><rect x="288.16" y="613.13" width="8.08" height="5.37" fill="#fff"/><text transform="translate(617.39,193.21) scale(0.7879,1)" font-size="61.29" fill="#262626" stroke="#fff" stroke-width="1.50" paint-order="normal">2</text><text transform="translate(649.13,193.31) scale(0.7879,1)" font-size="61.29" fill="#262626" stroke="#fff" stroke-width="1.50" paint-order="normal">5</text><text transform="translate(680.88,193.83) scale(1.0897,1)" font-size="61.29" fill="#262626" stroke="#fff" stroke-width="1.50" paint-order="normal">-</text><text transform="translate(707.27,193.39) scale(0.7879,1)" font-size="61.29" fill="#262626" stroke="#fff" stroke-width="1.50" paint-order="normal">6</text><text transform="translate(739.56,193.42) scale(0.7879,1)" font-size="61.29" fill="#262626" stroke="#fff" stroke-width="1.50" paint-order="normal">0</text><text transform="translate(784.72,193.26) scale(0.7879,1)" font-size="61.29" fill="#262626" stroke="#fff" stroke-width="1.50" paint-order="normal">1</text><rect x="787.08" y="187.68" width="10.54" height="7.08" fill="#fff"/><rect x="800.38" y="187.68" width="10.28" height="7.08" fill="#fff"/><text transform="translate(812.33,193.45) scale(0.7879,1)" font-size="61.29" fill="#262626" stroke="#fff" stroke-width="1.50" paint-order="normal">8</text><text transform="translate(845.26,192.47) scale(0.7879,1)" font-size="61.29" fill="#262626" stroke="#fff" stroke-width="1.50" paint-order="normal">0</text>
</svg></body></html>
